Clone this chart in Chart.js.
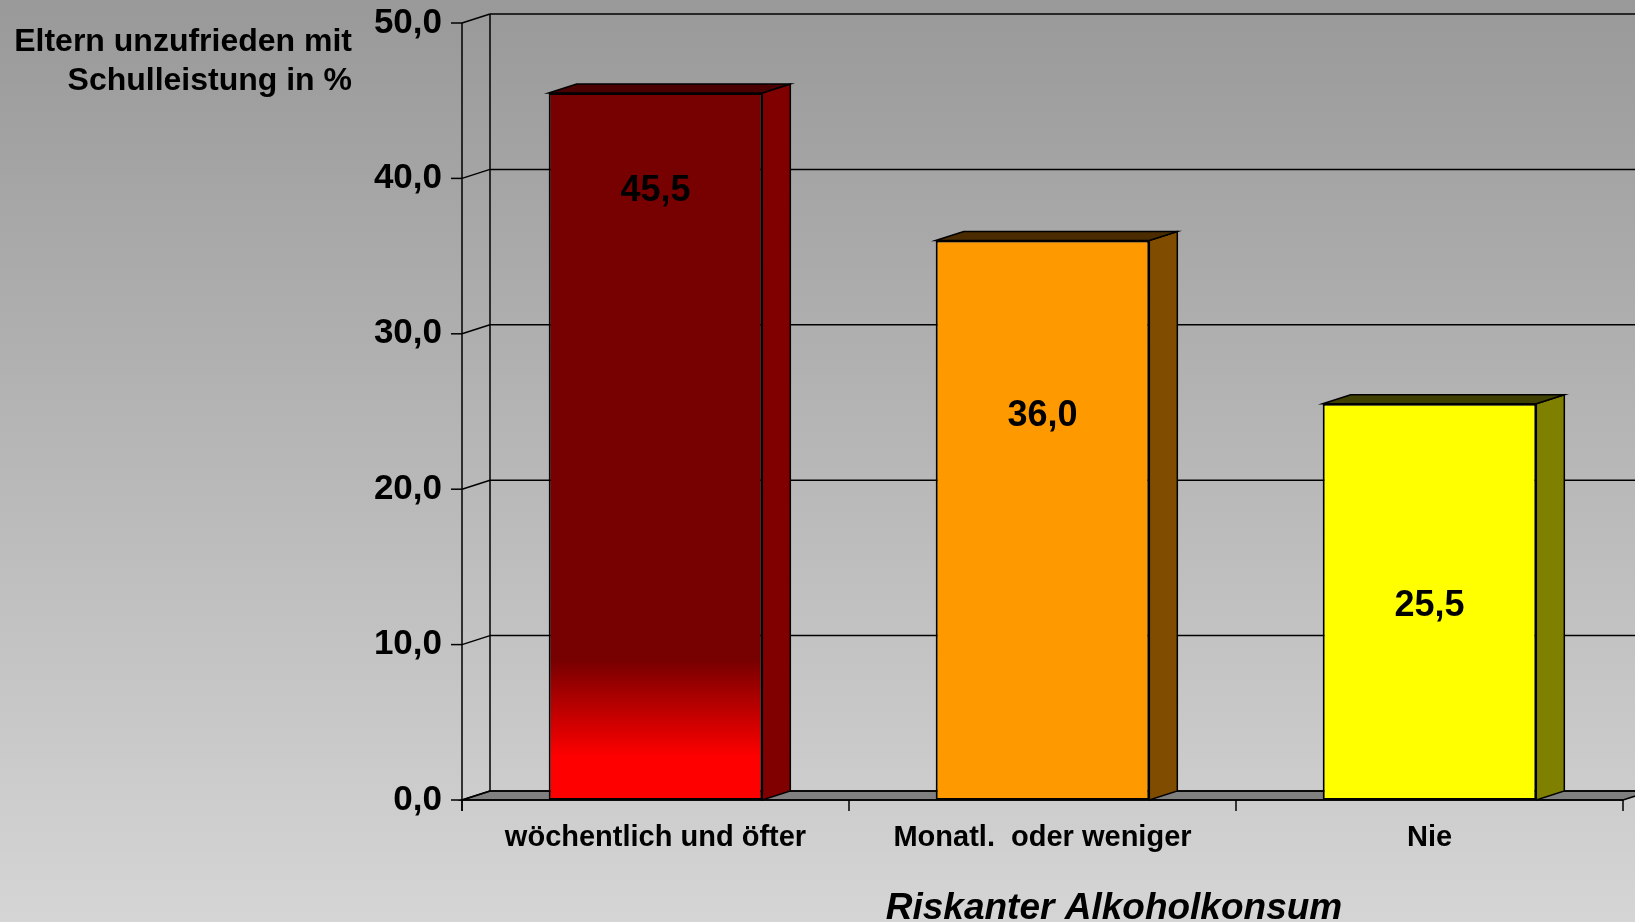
<!DOCTYPE html>
<html><head><meta charset="utf-8">
<script src="https://cdn.jsdelivr.net/npm/chart.js@4.4.0/dist/chart.umd.min.js"></script>
<style>html,body{margin:0;padding:0;overflow:hidden;background:#bbbbbb}canvas{display:block}</style>
</head><body>
<canvas id="c" width="1635" height="922"></canvas>
<script>
// ---- data ----
const categories = ['wöchentlich und öfter', 'Monatl.  oder weniger', 'Nie'];
const values = [45.5, 36.0, 25.5];
const yTicks = [0, 10, 20, 30, 40, 50];
const yTitle = ['Eltern unzufrieden mit', 'Schulleistung in %'];
const xTitle = 'Riskanter Alkoholkonsum';
const labelAnchor = [39.2, 24.7, 12.5];

// ---- style ----
const FONT = '"Liberation Sans", Arial, Helvetica, sans-serif';
const DX = 28, DY = 9;
const sideColors = ['#800000', '#804c00', '#808000'];
const topColors = ['#4a0000', '#4a2c00', '#404000'];
const fmt = v => v.toFixed(1).replace('.', ',');

function line(ctx, x1, y1, x2, y2) { ctx.beginPath(); ctx.moveTo(x1, y1); ctx.lineTo(x2, y2); ctx.stroke(); }

function frontColor(c) {
  const i = c.dataIndex;
  if (i === 1) return '#ff9900';
  if (i === 2) return '#ffff00';
  const chart = c.chart;
  if (!chart.chartArea) return '#770000';
  const y = chart.scales.y;
  const g = chart.ctx.createLinearGradient(0, y.getPixelForValue(0), 0, y.getPixelForValue(50));
  g.addColorStop(0, '#ff0000');
  g.addColorStop(0.055, '#ff0000');
  g.addColorStop(0.18, '#770000');
  g.addColorStop(1, '#770000');
  return g;
}

const bgPlugin = {
  id: 'bg',
  beforeDraw(chart) {
    const ctx = chart.ctx;
    const g = ctx.createLinearGradient(0, 0, 0, chart.height);
    g.addColorStop(0, '#999999');
    g.addColorStop(1, '#d5d5d5');
    ctx.save(); ctx.fillStyle = g; ctx.fillRect(0, 0, chart.width, chart.height); ctx.restore();
  }
};

const framePlugin = {
  id: 'frame',
  beforeDatasetsDraw(chart) {
    const { ctx, chartArea: a, scales: { x, y } } = chart;
    const L = a.left, R = a.right;
    const B = y.getPixelForValue(0), T = y.getPixelForValue(50);
    ctx.save();
    ctx.strokeStyle = '#000'; ctx.lineWidth = 1.5;
    // floor
    ctx.fillStyle = '#808080';
    ctx.beginPath();
    ctx.moveTo(L, B); ctx.lineTo(L + DX, B - DY); ctx.lineTo(R + DX, B - DY); ctx.lineTo(R, B); ctx.closePath();
    ctx.fill(); ctx.stroke();
    // back wall grid, side diagonals, front ticks
    yTicks.forEach(v => {
      const py = y.getPixelForValue(v);
      line(ctx, L + DX, py - DY, R + DX + 40, py - DY);
      line(ctx, L, py, L + DX, py - DY);
      line(ctx, L - 11, py, L, py);
    });
    line(ctx, L + DX, T - DY, L + DX, B - DY);
    // front axes
    line(ctx, L, T, L, B + 11);
    line(ctx, L, B, R, B);
    for (let i = 0; i <= categories.length; i++) {
      const px = x.getPixelForValue(i - 0.5);
      line(ctx, px, B, px, B + 11);
    }
    ctx.restore();
  }
};

const barsPlugin = {
  id: 'bars3d',
  afterDatasetsDraw(chart) {
    const { ctx, scales: { y } } = chart;
    const meta = chart.getDatasetMeta(0);
    ctx.save();
    ctx.strokeStyle = '#000'; ctx.lineWidth = 1.5; ctx.lineJoin = 'miter';
    meta.data.forEach((bar, i) => {
      const { x, y: top, base, width } = bar.getProps(['x', 'y', 'base', 'width'], true);
      const l = x - width / 2, r = x + width / 2;
      // side
      ctx.fillStyle = sideColors[i];
      ctx.beginPath();
      ctx.moveTo(r, top); ctx.lineTo(r + DX, top - DY); ctx.lineTo(r + DX, base - DY); ctx.lineTo(r, base); ctx.closePath();
      ctx.fill(); ctx.stroke();
      // top
      ctx.fillStyle = topColors[i];
      ctx.beginPath();
      ctx.moveTo(l, top); ctx.lineTo(l + DX, top - DY); ctx.lineTo(r + DX, top - DY); ctx.lineTo(r, top); ctx.closePath();
      ctx.fill(); ctx.stroke();
      // value label
      ctx.fillStyle = '#000';
      ctx.font = 'bold 36px ' + FONT;
      ctx.textAlign = 'center'; ctx.textBaseline = 'middle';
      ctx.fillText(fmt(values[i]), x, y.getPixelForValue(labelAnchor[i]));
    });
    ctx.restore();
  }
};

const titlePlugin = {
  id: 'titles',
  afterDraw(chart) {
    const ctx = chart.ctx;
    ctx.save();
    ctx.fillStyle = '#000';
    ctx.textBaseline = 'alphabetic';
    ctx.font = 'bold 32px ' + FONT;
    ctx.textAlign = 'right';
    ctx.fillText(yTitle[0], 352, 51);
    ctx.fillText(yTitle[1], 352, 89.5);
    ctx.font = 'italic bold 37px ' + FONT;
    ctx.textAlign = 'center';
    ctx.fillText(xTitle, 1114, 919);
    ctx.restore();
  }
};

new Chart(document.getElementById('c'), {
  type: 'bar',
  data: {
    labels: categories,
    datasets: [{
      data: values,
      backgroundColor: frontColor,
      borderColor: '#000',
      borderWidth: 2,
      borderSkipped: false,
      barPercentage: 0.552,
      categoryPercentage: 1
    }]
  },
  options: {
    responsive: false,
    animation: false,
    devicePixelRatio: 1,
    layout: { padding: { top: 23, right: 12, left: 0, bottom: 0 } },
    plugins: { legend: { display: false }, tooltip: { enabled: false }, title: { display: false } },
    scales: {
      x: {
        offset: true,
        grid: { display: false, drawTicks: false, tickLength: 0 },
        border: { display: false },
        ticks: { color: '#000', font: { family: FONT, size: 29, weight: 'bold' }, padding: 21, maxRotation: 0, autoSkip: false },
        afterFit(s) { s.height = 122; s.paddingLeft = 0; s.paddingRight = 0; }
      },
      y: {
        min: 0, max: 50,
        afterBuildTicks(s) { s.ticks = yTicks.map(v => ({ value: v })); },
        grid: { display: false, drawTicks: false, tickLength: 0 },
        border: { display: false },
        ticks: { color: '#000', font: { family: FONT, size: 35, weight: 'bold' }, padding: 20, callback: v => fmt(v) },
        afterFit(s) { s.width = 462; s.paddingTop = 0; s.paddingBottom = 0; }
      }
    }
  },
  plugins: [bgPlugin, framePlugin, barsPlugin, titlePlugin]
});
</script>
</body></html>
